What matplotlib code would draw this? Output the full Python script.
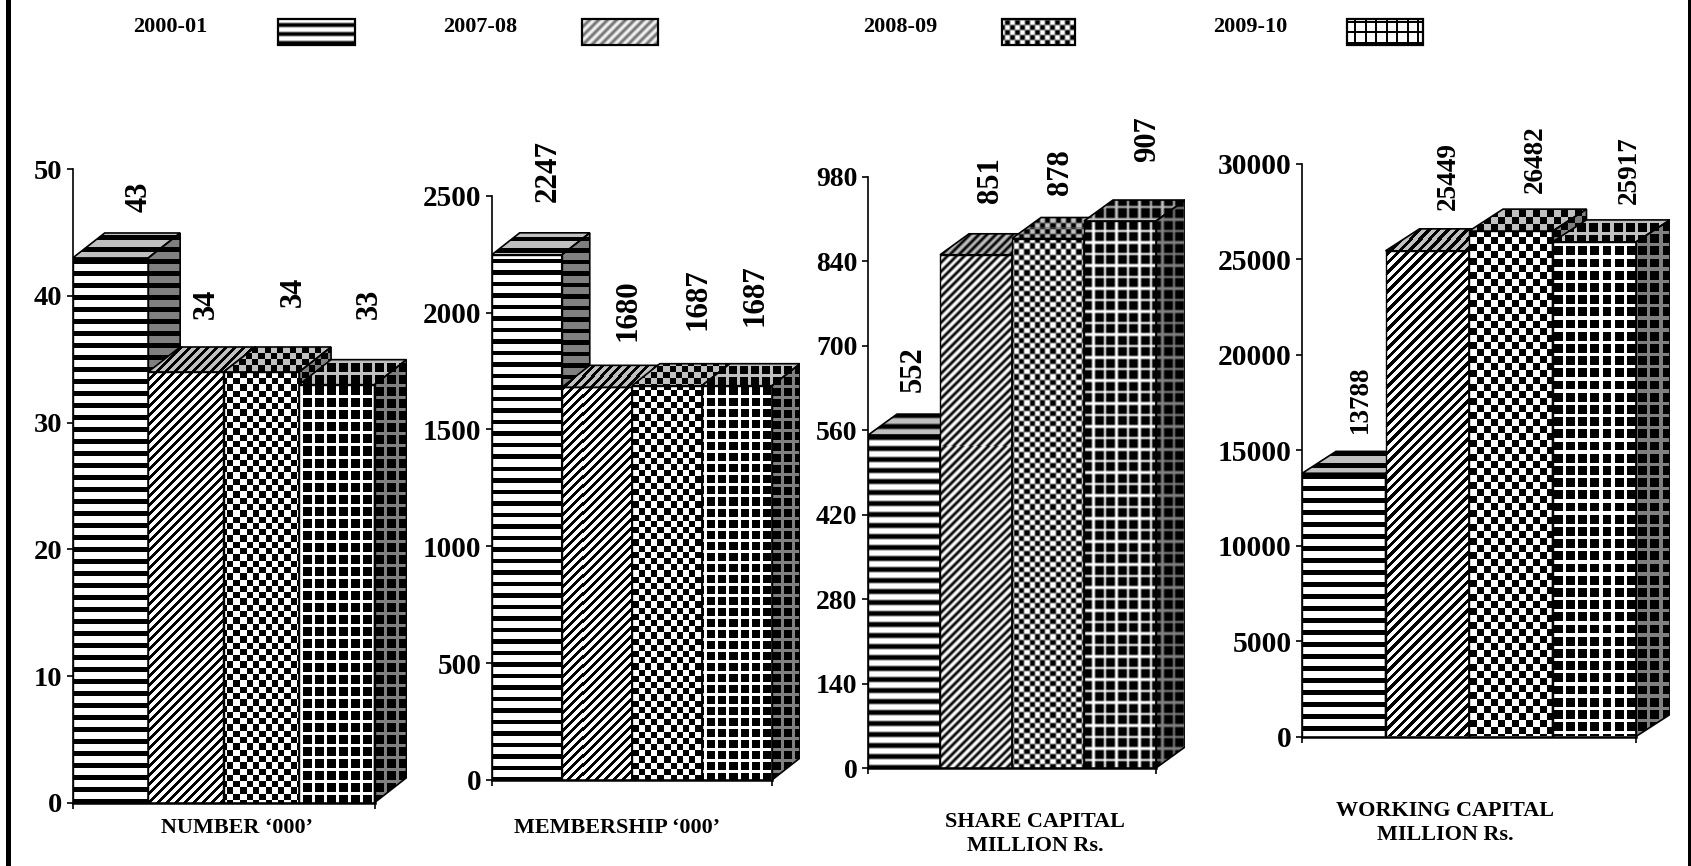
import numpy as np
import matplotlib
matplotlib.use("Agg")
import matplotlib.pyplot as plt
from matplotlib.patches import Polygon, Rectangle

W, H = 1691, 866
plt.rcParams['font.family'] = ['Liberation Serif', 'DejaVu Serif']
plt.rcParams['font.weight'] = 'bold'

# ---- data ----
years = ['2000-01', '2007-08', '2008-09', '2009-10']
number = [43, 34, 34, 33]
membership = [2247, 1680, 1687, 1687]
share_capital = [552, 851, 878, 907]
working_capital = [13788, 25449, 26482, 25917]
number_ticks = [0, 10, 20, 30, 40, 50]
membership_ticks = [0, 500, 1000, 1500, 2000, 2500]
share_ticks = [0, 140, 280, 420, 560, 700, 840, 980]
working_ticks = [0, 5000, 10000, 15000, 20000, 25000, 30000]
titles = ['NUMBER \u2018000\u2019', 'MEMBERSHIP \u2018000\u2019',
          'SHARE CAPITAL\nMILLION Rs.', 'WORKING CAPITAL\nMILLION Rs.']

# ---- layout (pixels) ----
panels = [
    dict(vals=number, ticks=number_ticks, title=titles[0], x0=72.7, x1=374.5, y0=802.7, yt=169.3, dx=32, dy=25,
         tfs=20.5, lfs=22, blur=0, st=12, dg=9, ck=6.3, gp=12, gw=3.5, tpos=(237, 828),
         off=[(29, 61), (20, 68), (32, 80), (33, 81)]),
    dict(vals=membership, ticks=membership_ticks, title=titles[1], x0=491.7, x1=772, y0=780, yt=195.7, dx=28, dy=22,
         tfs=21, lfs=22.3, blur=0, st=11.5, dg=9, ck=6.2, gp=11, gw=3.2, tpos=(617, 828),
         off=[(21.5, 84), (31.5, 77), (31.5, 87), (18.5, 91)]),
    dict(vals=share_capital, ticks=share_ticks, title=titles[2], x0=868, x1=1156, y0=768, yt=177, dx=29, dy=21,
         tfs=20, lfs=22, blur=1, st=11, dg=8.5, ck=5.2, gp=11.5, gw=2.5, tpos=(1035, 834),
         off=[(9, 66), (15, 75), (12.5, 66.5), (27.5, 82)]),
    dict(vals=working_capital, ticks=working_ticks, title=titles[3], x0=1302, x1=1636, y0=736.5, yt=164, dx=34, dy=22,
         tfs=21.3, lfs=19.5, blur=0, st=12, dg=9.5, ck=7, gp=12.2, gw=3.5, tpos=(1445, 823),
         off=[(16.5, 74), (21.5, 75), (24.5, 72), (35.5, 72)]),
]
kinds = ['stripe', 'diag', 'check', 'grid']
legend_text_x = [170, 480, 900, 1250]
legend_box_x = [(278, 355), (582, 658), (1002, 1075), (1347, 1423)]
legend_styles = [
    dict(kind='stripe', st=9, blur=1, fg=0.0, bg=1.0),
    dict(kind='diag', dg=9, blur=2, fg=0.35, bg=1.0),
    dict(kind='check', ck=5, blur=1, fg=0.0, bg=1.0),
    dict(kind='linegrid', gp=10.5, gw=2, blur=0, fg=0.0, bg=1.0),
]

fig = plt.figure(figsize=(W / 100, H / 100), dpi=100, facecolor='white')


def smooth(a, n):
    k = np.array([1, 2, 1]) / 4
    for _ in range(n):
        a = np.pad(a, 1, mode='edge')
        a = np.apply_along_axis(lambda r: np.convolve(r, k, 'valid'), 0, a)
        a = np.apply_along_axis(lambda r: np.convolve(r, k, 'valid'), 1, a)
    return a


def texture(px0, px1, py0, py1, s, fg, bg):
    X, Y = np.meshgrid(np.arange(px0, px1) + 0.5, np.arange(py0, py1) + 0.5)
    kind = s['kind']
    if kind == 'stripe':
        m = (Y % s['st']) < s['st'] * 0.58
    elif kind == 'diag':
        m = ((X + Y) % s['dg']) < s['dg'] / 2
    elif kind == 'check':
        m = ((np.floor(X / s['ck']) + np.floor(Y / s['ck'])) % 2) < 1
    elif kind == 'grid':
        m = ((X % s['gp']) < s['gw']) | ((Y % s['gp']) < s['gw'])
    else:
        m = ~(((X % s['gp']) < s['gw']) | ((Y % s['gp']) < s['gw']))
    a = fg + (bg - fg) * m.astype(float)
    return smooth(a, s.get('blur', 0))


def fill_face(ax, patch, s, fg, bg, z):
    patch.set_zorder(z + 0.5)
    fig_xy = patch.get_transform().transform(patch.get_path().vertices)
    px0, px1 = int(np.floor(fig_xy[:, 0].min())), int(np.ceil(fig_xy[:, 0].max()))
    py0, py1 = int(np.floor(H - fig_xy[:, 1].max())), int(np.ceil(H - fig_xy[:, 1].min()))
    inv = ax.transData.inverted()
    (l, b), (r, t) = inv.transform([(px0, H - py1), (px1, H - py0)])
    im = ax.imshow(texture(px0, px1, py0, py1, s, fg, bg), cmap='gray', vmin=0, vmax=1,
                   extent=(l, r, b, t), origin='upper', aspect='auto',
                   interpolation='nearest', zorder=z)
    im.set_clip_path(patch)


for p in panels:
    pw, ph = p['x1'] - p['x0'], p['y0'] - p['yt']
    ax = fig.add_axes([p['x0'] / W, 1 - p['y0'] / H, (pw + p['dx']) / W, ph / H])
    ax.patch.set_alpha(0)
    n = len(p['vals'])
    ymax = p['ticks'][-1]
    ddx = p['dx'] / (pw / n)
    ddy = p['dy'] / (ph / ymax)
    ax.set_xlim(0, n + ddx)
    ax.set_ylim(0, ymax)
    for i, v in enumerate(p['vals']):
        z = 2 + i
        s = dict(kind=kinds[i], st=p['st'], dg=p['dg'], ck=p['ck'], gp=p['gp'], gw=p['gw'], blur=p['blur'])
        bar = ax.bar(i, v, width=1, align='edge', facecolor='none', edgecolor='black', linewidth=1.0)[0]
        fill_face(ax, bar, s, 0.0, 1.0, z + 0.2)
        top = Polygon([(i, v), (i + ddx, v + ddy), (i + 1 + ddx, v + ddy), (i + 1, v)], closed=True,
                      facecolor='none', edgecolor='black', linewidth=1.2)
        ax.add_patch(top)
        fill_face(ax, top, s, 0.0, 0.75, z + 0.1)
        side = Polygon([(i + 1, 0), (i + 1 + ddx, ddy), (i + 1 + ddx, v + ddy), (i + 1, v)], closed=True,
                       facecolor='none', edgecolor='black', linewidth=1.2)
        ax.add_patch(side)
        fill_face(ax, side, s, 0.0, 0.5, z)
        ox, oy = p['off'][i]
        ax.annotate(str(v), xy=(i + 0.5, v), xytext=(ox * 0.72, oy * 0.72), textcoords='offset points',
                    rotation=90, ha='center', va='center', fontsize=p['lfs'], fontweight='bold',
                    annotation_clip=False, zorder=30)
    for sp in ['top', 'right']:
        ax.spines[sp].set_visible(False)
    ax.spines['left'].set_linewidth(1.2)
    ax.spines['bottom'].set_linewidth(1.8)
    ax.spines['bottom'].set_bounds(0, n)
    ax.spines['left'].set_zorder(20)
    ax.spines['bottom'].set_zorder(20)
    ax.set_yticks(p['ticks'])
    ax.set_yticklabels([str(t) for t in p['ticks']], fontsize=p['tfs'], fontweight='bold')
    ax.tick_params(axis='y', length=4.5, width=1.2, pad=3)
    ax.set_xticks([0, n])
    ax.set_xticklabels([])
    ax.tick_params(axis='x', length=4, width=1.2)

# overlay in pixel coordinates: frame, legend, captions
ov = fig.add_axes([0, 0, 1, 1], zorder=50)
ov.set_xlim(0, W)
ov.set_ylim(H, 0)
ov.axis('off')
ov.patch.set_alpha(0)
ov.add_patch(Rectangle((6, 0), 5, H, facecolor='black', edgecolor='none'))
ov.add_patch(Rectangle((1688, 0), 3, H, facecolor='black', edgecolor='none'))

for p in panels:
    ov.text(p['tpos'][0], p['tpos'][1], p['title'], ha='center', va='center', fontsize=15.9,
            fontweight='bold', linespacing=1.32)

for name, tx, (bx0, bx1), st in zip(years, legend_text_x, legend_box_x, legend_styles):
    ov.text(tx, 27, name, ha='center', va='center', fontsize=16, fontweight='bold')
    tex = texture(bx0, bx1, 19, 45, st, st['fg'], st['bg'])
    ov.imshow(tex, cmap='gray', vmin=0, vmax=1, extent=(bx0, bx1, 45, 19), aspect='auto',
              interpolation='nearest', zorder=2)
    ov.add_patch(Rectangle((bx0, 19), bx1 - bx0, 26, facecolor='none', edgecolor='black', linewidth=1.6, zorder=3))

fig.savefig('out.png', dpi=100)
